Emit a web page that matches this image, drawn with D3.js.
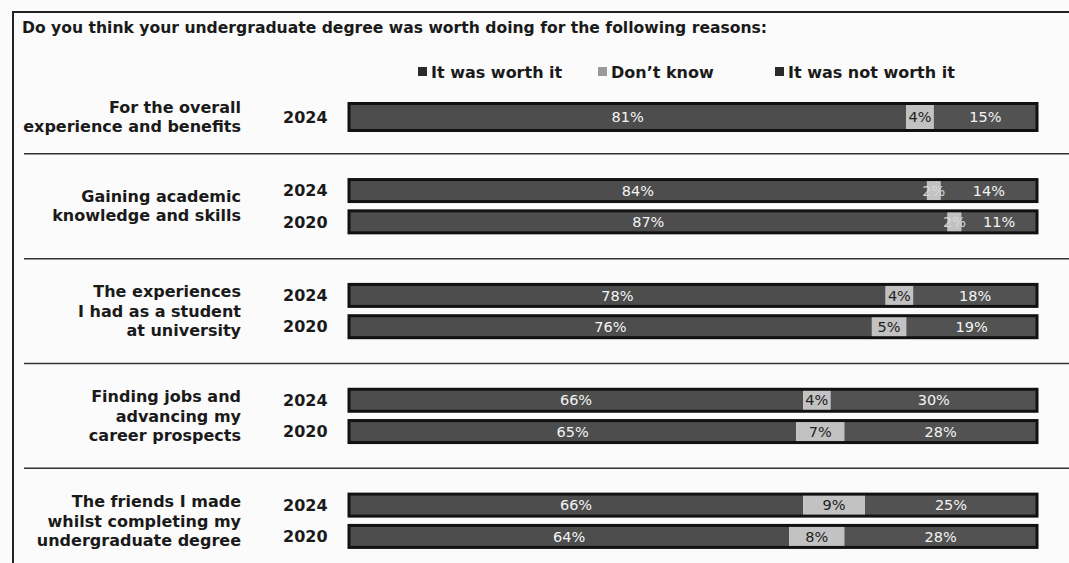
<!DOCTYPE html>
<html>
<head>
<meta charset="utf-8">
<script src="https://cdn.jsdelivr.net/npm/d3@7"></script>
<style>
  body { margin: 0; background: #fbfbfb; }
  svg { display: block; }
</style>
</head>
<body>
<svg id="chart"></svg>
<script>
// ---- data ----
var title = "Do you think your undergraduate degree was worth doing for the following reasons:";
var seriesNames = ["It was worth it", "Don\u2019t know", "It was not worth it"];

var groupLabels = [
    ["For the overall", "experience and benefits"],
    ["Gaining academic", "knowledge and skills"],
    ["The experiences", "I had as a student", "at university"],
    ["Finding jobs and", "advancing my", "career prospects"],
    ["The friends I made", "whilst completing my", "undergraduate degree"]
];

// one entry per bar
var rowGroup = [0, 1, 1, 2, 2, 3, 3, 4, 4];
var rowYear  = ["2024", "2024", "2020", "2024", "2020", "2024", "2020", "2024", "2020"];
var worth    = [81, 84, 87, 78, 76, 66, 65, 66, 64];
var dontKnow = [4, 2, 2, 4, 5, 4, 7, 9, 8];
var notWorth = [15, 14, 11, 18, 19, 30, 28, 25, 28];

// ---- layout ----
var svgWidth = 1069, svgHeight = 563;
var colors = ["#4d4d4d", "#c2c2c2", "#525252"];
var font = "'DejaVu Sans', sans-serif";

var svg = d3.select("#chart")
    .attr("width", svgWidth)
    .attr("height", svgHeight);

// frame of the printed box (runs off the right and bottom edges)
svg.append("rect")
    .attr("x", 13).attr("y", 12)
    .attr("width", 1080).attr("height", 580)
    .attr("fill", "none")
    .attr("stroke", "#222")
    .attr("stroke-width", 2);

svg.append("text")
    .attr("x", 22).attr("y", 33)
    .attr("font-family", font)
    .attr("font-size", 15.6)
    .attr("font-weight", "bold")
    .attr("fill", "#1a1a1a")
    .text(title);

// slot position of each row: rows step 1, a new group adds an extra gap
var slots = [];
var k = 0;
rowGroup.forEach(function(g, i) {
    if (i > 0) k += (g !== rowGroup[i - 1]) ? 2.35 : 1;
    slots.push(k);
});
var yScale = d3.scaleLinear()
    .domain([0, 1])
    .range([117, 148.3]);

var xScale = d3.scaleLinear()
    .domain([0, 100])
    .range([349, 1037]);

// legend
var legendX = [418, 598, 775];
var legend = svg.selectAll(".legend")
    .data(seriesNames)
    .enter()
    .append("g")
    .attr("transform", function(d, i) { return "translate(" + legendX[i] + ",72)"; });
legend.append("rect")
    .attr("x", 0).attr("y", -5)
    .attr("width", 9).attr("height", 9)
    .attr("fill", function(d, i) { return i === 1 ? "#9a9a9a" : "#2a2a2a"; });
legend.append("text")
    .attr("x", 13).attr("dy", "0.36em")
    .attr("font-family", font)
    .attr("font-size", 16)
    .attr("font-weight", "bold")
    .attr("fill", "#1a1a1a")
    .text(function(d) { return d; });

// separators between groups
var groupCenters = groupLabels.map(function(d, g) {
    var ys = slots.filter(function(s, i) { return rowGroup[i] === g; }).map(yScale);
    return (d3.min(ys) + d3.max(ys)) / 2;
});
var seps = [];
for (var i = 1; i < rowGroup.length; i++) {
    if (rowGroup[i] !== rowGroup[i - 1]) seps.push((yScale(slots[i]) + yScale(slots[i - 1])) / 2);
}
svg.selectAll(".sep")
    .data(seps)
    .enter()
    .append("line")
    .attr("x1", 24).attr("x2", svgWidth)
    .attr("y1", function(d) { return d; })
    .attr("y2", function(d) { return d; })
    .attr("stroke", "#333")
    .attr("stroke-width", 1.5);

// group labels
var labelG = svg.selectAll(".glabel")
    .data(groupLabels)
    .enter()
    .append("text")
    .attr("text-anchor", "end")
    .attr("font-family", font)
    .attr("font-size", 16)
    .attr("font-weight", "bold")
    .attr("fill", "#1a1a1a");
labelG.each(function(lines, g) {
    var lh = lines.length === 3 ? 19.5 : 19;
    var top = groupCenters[g] - (lines.length - 1) * lh / 2;
    d3.select(this).selectAll("tspan")
        .data(lines)
        .enter()
        .append("tspan")
        .attr("x", 241)
        .attr("y", function(d, j) { return top + j * lh; })
        .attr("dy", "0.36em")
        .text(function(d) { return d; });
});

// rows
var rows = svg.selectAll(".row")
    .data(rowYear)
    .enter()
    .append("g")
    .attr("transform", function(d, i) { return "translate(0," + yScale(slots[i]) + ")"; });

rows.append("text")
    .attr("x", 283)
    .attr("dy", "0.36em")
    .attr("font-family", font)
    .attr("font-size", 16)
    .attr("font-weight", "bold")
    .attr("fill", "#1a1a1a")
    .text(function(d) { return d; });

function barH(i) {
    // a group with a single bar is drawn a bit thicker
    return rowGroup.filter(function(g) { return g === rowGroup[i]; }).length === 1 ? 27 : 22;
}

rows.each(function(year, i) {
    var vals = [worth[i], dontKnow[i], notWorth[i]];
    var starts = [0, worth[i], worth[i] + dontKnow[i]];
    var h = barH(i);
    var row = d3.select(this);

    row.selectAll(".seg")
        .data(vals)
        .enter()
        .append("rect")
        .attr("x", function(d, j) { return xScale(starts[j]); })
        .attr("y", -h / 2)
        .attr("width", function(d, j) { return xScale(starts[j] + d) - xScale(starts[j]); })
        .attr("height", h)
        .attr("fill", function(d, j) { return colors[j]; });

    row.append("rect")
        .attr("x", xScale(0))
        .attr("y", -h / 2)
        .attr("width", xScale(100) - xScale(0))
        .attr("height", h)
        .attr("fill", "none")
        .attr("stroke", "#111")
        .attr("stroke-width", 3);

    row.selectAll(".val")
        .data(vals)
        .enter()
        .append("text")
        .attr("x", function(d, j) { return xScale(starts[j] + d / 2); })
        .attr("dy", "0.36em")
        .attr("text-anchor", "middle")
        .attr("font-family", font)
        .attr("font-size", 14.5)
        .attr("fill", function(d, j) {
            if (j !== 1) return "#f4f4f4";
            return d < 3 ? "#d8d8d8" : "#222";
        })
        .text(function(d) { return d + "%"; });
});
</script>
</body>
</html>
